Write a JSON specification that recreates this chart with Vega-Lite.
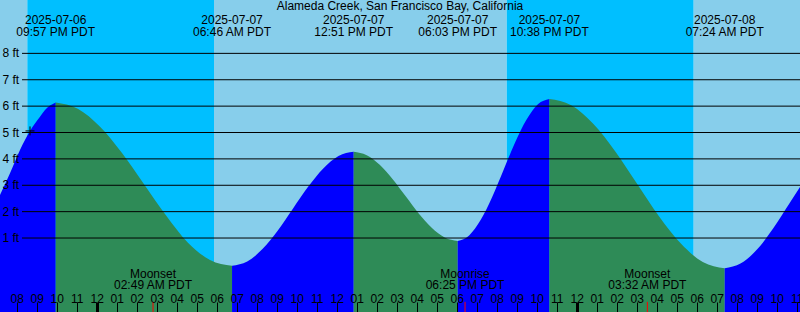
{
  "$schema": "https://vega.github.io/schema/vega-lite/v6.json",
  "width": 800,
  "height": 312,
  "padding": 0,
  "autosize": {"type": "none"},
  "config": {
    "view": {"stroke": null},
    "text": {"font": "Liberation Sans", "fontSize": 12, "color": "black"}
  },
  "resolve": {"scale": {"color": "independent"}, "axis": {"x": "independent"}},
  "datasets": {
    "bands": [
      {"h": -4.835, "h2": -3.47, "kind": "day"},
      {"h": -3.47, "h2": 5.865, "kind": "night"},
      {"h": 5.865, "h2": 20.5, "kind": "day"},
      {"h": 20.5, "h2": 29.85, "kind": "night"},
      {"h": 29.85, "h2": 35.165, "kind": "day"}
    ],
    "tide": [
      {"h": -4.835, "ft": 2.63, "seg": 0, "dir": "rising"},
      {"h": -4.335, "ft": 3.46, "seg": 0, "dir": "rising"},
      {"h": -3.835, "ft": 4.34, "seg": 0, "dir": "rising"},
      {"h": -3.335, "ft": 5.06, "seg": 0, "dir": "rising"},
      {"h": -2.835, "ft": 5.6, "seg": 0, "dir": "rising"},
      {"h": -2.585, "ft": 5.85, "seg": 0, "dir": "rising"},
      {"h": -2.335, "ft": 6.02, "seg": 0, "dir": "rising"},
      {"h": -2.05, "ft": 6.14, "seg": 0, "dir": "rising"},
      {"h": -2.05, "ft": 6.14, "seg": 1, "dir": "falling"},
      {"h": -0.948, "ft": 5.9, "seg": 1, "dir": "falling"},
      {"h": 0.154, "ft": 5.23, "seg": 1, "dir": "falling"},
      {"h": 1.256, "ft": 4.23, "seg": 1, "dir": "falling"},
      {"h": 2.359, "ft": 3.05, "seg": 1, "dir": "falling"},
      {"h": 3.461, "ft": 1.86, "seg": 1, "dir": "falling"},
      {"h": 4.563, "ft": 0.82, "seg": 1, "dir": "falling"},
      {"h": 5.665, "ft": 0.17, "seg": 1, "dir": "falling"},
      {"h": 6.767, "ft": -0.05, "seg": 1, "dir": "falling"},
      {"h": 6.767, "ft": -0.05, "seg": 2, "dir": "rising"},
      {"h": 7.527, "ft": 0.11, "seg": 2, "dir": "rising"},
      {"h": 8.288, "ft": 0.58, "seg": 2, "dir": "rising"},
      {"h": 9.048, "ft": 1.28, "seg": 2, "dir": "rising"},
      {"h": 9.809, "ft": 2.11, "seg": 2, "dir": "rising"},
      {"h": 10.569, "ft": 2.94, "seg": 2, "dir": "rising"},
      {"h": 11.329, "ft": 3.64, "seg": 2, "dir": "rising"},
      {"h": 12.09, "ft": 4.11, "seg": 2, "dir": "rising"},
      {"h": 12.85, "ft": 4.27, "seg": 2, "dir": "rising"},
      {"h": 12.85, "ft": 4.27, "seg": 3, "dir": "falling"},
      {"h": 13.5, "ft": 4.14, "seg": 3, "dir": "falling"},
      {"h": 14.15, "ft": 3.78, "seg": 3, "dir": "falling"},
      {"h": 14.8, "ft": 3.23, "seg": 3, "dir": "falling"},
      {"h": 15.45, "ft": 2.58, "seg": 3, "dir": "falling"},
      {"h": 16.1, "ft": 1.93, "seg": 3, "dir": "falling"},
      {"h": 16.75, "ft": 1.39, "seg": 3, "dir": "falling"},
      {"h": 17.4, "ft": 1.02, "seg": 3, "dir": "falling"},
      {"h": 18.05, "ft": 0.89, "seg": 3, "dir": "falling"},
      {"h": 18.05, "ft": 0.89, "seg": 4, "dir": "rising"},
      {"h": 18.623, "ft": 1.1, "seg": 4, "dir": "rising"},
      {"h": 19.196, "ft": 1.68, "seg": 4, "dir": "rising"},
      {"h": 19.769, "ft": 2.55, "seg": 4, "dir": "rising"},
      {"h": 20.342, "ft": 3.58, "seg": 4, "dir": "rising"},
      {"h": 20.914, "ft": 4.61, "seg": 4, "dir": "rising"},
      {"h": 21.487, "ft": 5.48, "seg": 4, "dir": "rising"},
      {"h": 22.06, "ft": 6.07, "seg": 4, "dir": "rising"},
      {"h": 22.633, "ft": 6.27, "seg": 4, "dir": "rising"},
      {"h": 22.633, "ft": 6.27, "seg": 5, "dir": "falling"},
      {"h": 23.729, "ft": 6.03, "seg": 5, "dir": "falling"},
      {"h": 24.825, "ft": 5.33, "seg": 5, "dir": "falling"},
      {"h": 25.921, "ft": 4.29, "seg": 5, "dir": "falling"},
      {"h": 27.017, "ft": 3.06, "seg": 5, "dir": "falling"},
      {"h": 28.113, "ft": 1.83, "seg": 5, "dir": "falling"},
      {"h": 29.208, "ft": 0.79, "seg": 5, "dir": "falling"},
      {"h": 30.304, "ft": 0.09, "seg": 5, "dir": "falling"},
      {"h": 31.4, "ft": -0.15, "seg": 5, "dir": "falling"},
      {"h": 31.4, "ft": -0.15, "seg": 6, "dir": "rising"},
      {"h": 32.2125, "ft": 0.04, "seg": 6, "dir": "rising"},
      {"h": 33.025, "ft": 0.57, "seg": 6, "dir": "rising"},
      {"h": 33.8375, "ft": 1.38, "seg": 6, "dir": "rising"},
      {"h": 34.65, "ft": 2.33, "seg": 6, "dir": "rising"},
      {"h": 35.165, "ft": 2.93, "seg": 6, "dir": "rising"}
    ],
    "levels": [
      {"ft": 1, "lab": "1 ft"}, {"ft": 2, "lab": "2 ft"}, {"ft": 3, "lab": "3 ft"}, {"ft": 4, "lab": "4 ft"},
      {"ft": 5, "lab": "5 ft"}, {"ft": 6, "lab": "6 ft"}, {"ft": 7, "lab": "7 ft"}, {"ft": 8, "lab": "8 ft"}
    ],
    "events": [
      {"h": -2.05, "date": "2025-07-06", "time": "09:57 PM PDT"},
      {"h": 6.767, "date": "2025-07-07", "time": "06:46 AM PDT"},
      {"h": 12.85, "date": "2025-07-07", "time": "12:51 PM PDT"},
      {"h": 18.05, "date": "2025-07-07", "time": "06:03 PM PDT"},
      {"h": 22.633, "date": "2025-07-07", "time": "10:38 PM PDT"},
      {"h": 31.4, "date": "2025-07-08", "time": "07:24 AM PDT"}
    ],
    "moon": [
      {"h": 2.817, "name": "Moonset", "time": "02:49 AM PDT"},
      {"h": 18.417, "name": "Moonrise", "time": "06:25 PM PDT"},
      {"h": 27.533, "name": "Moonset", "time": "03:32 AM PDT"}
    ],
    "now": [{"h": -3.335, "ft": 5.06}],
    "title": [{"h": 15.165, "text": "Alameda Creek, San Francisco Bay, California"}]
  },
  "layer": [
    {
      "data": {"name": "bands"},
      "mark": {"type": "rect"},
      "encoding": {
        "x": {"field": "h", "type": "quantitative", "scale": {"domain": [-4.835, 35.165], "nice": false, "zero": false}, "axis": null},
        "x2": {"field": "h2"},
        "color": {"field": "kind", "type": "nominal", "scale": {"domain": ["day", "night"], "range": ["#87CEEB", "#00BFFF"]}, "legend": null}
      }
    },
    {
      "data": {"name": "tide"},
      "mark": {"type": "area", "interpolate": "monotone", "clip": true},
      "encoding": {
        "x": {"field": "h", "type": "quantitative", "scale": {"domain": [-4.835, 35.165], "nice": false, "zero": false},
          "axis": {
            "orient": "bottom", "offset": -10, "title": null, "domain": false, "grid": false,
            "values": [-5,-4,-3,-2,-1,0,1,2,3,4,5,6,7,8,9,10,11,12,13,14,15,16,17,18,19,20,21,22,23,24,25,26,27,28,29,30,31,32,33,34,35],
            "labelExpr": "pad(toString(((datum.value % 12) + 12) % 12 == 0 ? 12 : ((datum.value % 12) + 12) % 12), 2, '0', 'left')",
            "tickSize": 10, "tickColor": "black",
            "tickWidth": {"condition": {"test": "datum.value % 24 == 0", "value": 3}, "value": 1},
            "labelPadding": -10, "labelBaseline": "alphabetic", "labelFont": "Liberation Sans", "labelFontSize": 12,
            "labelColor": "black", "labelOverlap": false, "labelBound": false, "labelFlush": false, "zindex": 2
          }
        },
        "y": {"field": "ft", "type": "quantitative", "scale": {"domain": [-1.804, 10.023], "nice": false, "zero": false}, "axis": null},
        "y2": {"datum": -1.804},
        "color": {"field": "dir", "type": "nominal", "scale": {"domain": ["rising", "falling"], "range": ["#0000FF", "#2E8B57"]}, "legend": null},
        "detail": {"field": "seg", "type": "nominal"}
      }
    },
    {
      "data": {"name": "levels"},
      "mark": {"type": "rule", "color": "black", "strokeWidth": 1},
      "encoding": {
        "x": {"datum": -3.735, "type": "quantitative", "scale": {"domain": [-4.835, 35.165], "nice": false, "zero": false}, "axis": null},
        "x2": {"datum": 35.165},
        "y": {"field": "ft", "type": "quantitative", "scale": {"domain": [-1.804, 10.023], "nice": false, "zero": false}, "axis": null}
      }
    },
    {
      "data": {"name": "levels"},
      "mark": {"type": "text", "align": "left", "baseline": "middle"},
      "encoding": {
        "x": {"datum": -4.71, "type": "quantitative", "scale": {"domain": [-4.835, 35.165], "nice": false, "zero": false}, "axis": null},
        "y": {"field": "ft", "type": "quantitative", "scale": {"domain": [-1.804, 10.023], "nice": false, "zero": false}, "axis": null},
        "text": {"field": "lab"}
      }
    },
    {
      "data": {"name": "now"},
      "mark": {"type": "point", "shape": "M-1,0H1M0,-1V1", "filled": false, "stroke": "black", "strokeWidth": 1, "size": 81, "opacity": 1},
      "encoding": {
        "x": {"field": "h", "type": "quantitative", "scale": {"domain": [-4.835, 35.165], "nice": false, "zero": false}, "axis": null},
        "y": {"field": "ft", "type": "quantitative", "scale": {"domain": [-1.804, 10.023], "nice": false, "zero": false}, "axis": null}
      }
    },
    {
      "data": {"name": "events"},
      "mark": {"type": "text", "align": "center", "baseline": "alphabetic"},
      "encoding": {
        "x": {"field": "h", "type": "quantitative", "scale": {"domain": [-4.835, 35.165], "nice": false, "zero": false}, "axis": null},
        "y": {"datum": 9.113, "type": "quantitative", "scale": {"domain": [-1.804, 10.023], "nice": false, "zero": false}, "axis": null},
        "text": {"field": "date"}
      }
    },
    {
      "data": {"name": "events"},
      "mark": {"type": "text", "align": "center", "baseline": "alphabetic"},
      "encoding": {
        "x": {"field": "h", "type": "quantitative", "scale": {"domain": [-4.835, 35.165], "nice": false, "zero": false}, "axis": null},
        "y": {"datum": 8.658, "type": "quantitative", "scale": {"domain": [-1.804, 10.023], "nice": false, "zero": false}, "axis": null},
        "text": {"field": "time"}
      }
    },
    {
      "data": {"name": "title"},
      "mark": {"type": "text", "align": "center", "baseline": "alphabetic"},
      "encoding": {
        "x": {"field": "h", "type": "quantitative", "scale": {"domain": [-4.835, 35.165], "nice": false, "zero": false}, "axis": null},
        "y": {"datum": 9.625, "type": "quantitative", "scale": {"domain": [-1.804, 10.023], "nice": false, "zero": false}, "axis": null},
        "text": {"field": "text"}
      }
    },
    {
      "data": {"name": "moon"},
      "mark": {"type": "text", "align": "center", "baseline": "alphabetic"},
      "encoding": {
        "x": {"field": "h", "type": "quantitative", "scale": {"domain": [-4.835, 35.165], "nice": false, "zero": false}, "axis": null},
        "y": {"datum": -0.516, "type": "quantitative", "scale": {"domain": [-1.804, 10.023], "nice": false, "zero": false}, "axis": null},
        "text": {"field": "name"}
      }
    },
    {
      "data": {"name": "moon"},
      "mark": {"type": "text", "align": "center", "baseline": "alphabetic"},
      "encoding": {
        "x": {"field": "h", "type": "quantitative", "scale": {"domain": [-4.835, 35.165], "nice": false, "zero": false}, "axis": null},
        "y": {"datum": -0.94, "type": "quantitative", "scale": {"domain": [-1.804, 10.023], "nice": false, "zero": false}, "axis": null},
        "text": {"field": "time"}
      }
    },
    {
      "data": {"name": "moon"},
      "mark": {"type": "rule", "color": "#FF0000", "strokeWidth": 1},
      "encoding": {
        "x": {"field": "h", "type": "quantitative", "scale": {"domain": [-4.835, 35.165], "nice": false, "zero": false}, "axis": null},
        "y": {"datum": -1.42, "type": "quantitative", "scale": {"domain": [-1.804, 10.023], "nice": false, "zero": false}, "axis": null},
        "y2": {"datum": -1.804}
      }
    }
  ]
}
